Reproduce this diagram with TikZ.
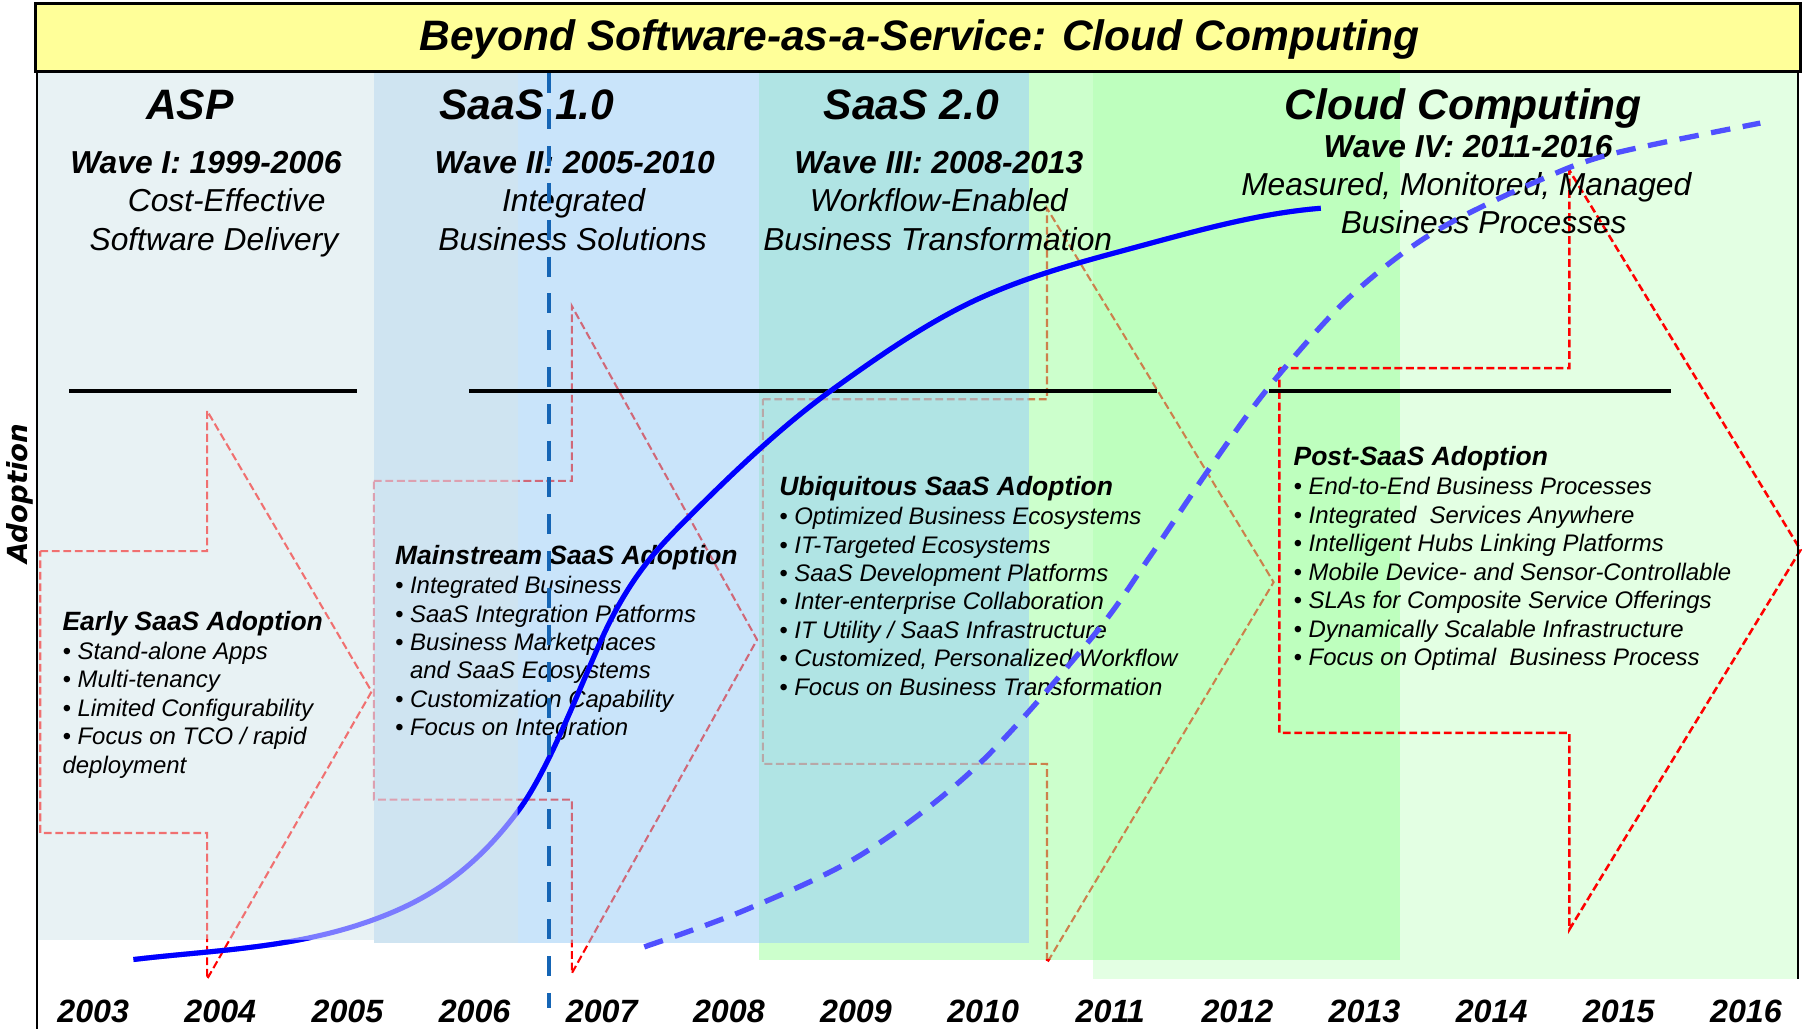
\documentclass[tikz,border=0pt]{standalone}
\usepackage{fontspec}
\setmainfont{Liberation Sans}
\newfontfamily\dejavu{DejaVu Sans}
\definecolor{ttlyel}{HTML}{FFFF99}
\definecolor{aspbg}{HTML}{E8F2F4}
\definecolor{sonel}{HTML}{CFE4F1}
\definecolor{soner}{HTML}{C9E4FA}
\definecolor{gpale}{HTML}{CCFFCC}
\definecolor{tealbg}{HTML}{B0E4E4}
\definecolor{glight}{HTML}{E3FFE3}
\definecolor{gmid}{HTML}{BEFFBE}
\definecolor{salmonA}{HTML}{F07070}
\definecolor{pinkL}{HTML}{DCA0B0}
\definecolor{pinkR}{HTML}{D06878}
\definecolor{grayA}{HTML}{B8A8A8}
\definecolor{brownA}{HTML}{CC804C}
\definecolor{curveL}{HTML}{7B7BFF}
\definecolor{curveB}{HTML}{0000FF}
\definecolor{dashcurve}{HTML}{5050FF}
\definecolor{vline}{HTML}{1565B5}
\tikzset{
  ttl/.style={font=\fontsize{18.5}{22}\selectfont\bfseries\itshape, anchor=base, inner sep=0},
  wave/.style={font=\fontsize{13.8}{16}\selectfont\bfseries\itshape, anchor=base, inner sep=0},
  desc/.style={font=\fontsize{13.8}{16}\selectfont\itshape, anchor=base, inner sep=0},
  lhead/.style={font=\fontsize{11.5}{13}\selectfont\bfseries\itshape, anchor=base west, inner sep=0},
  litem/.style={font=\fontsize{10.4}{12}\selectfont\itshape, anchor=base west, inner sep=0},
  yr/.style={font=\fontsize{14}{16}\selectfont\bfseries\itshape, anchor=base, inner sep=0},
  arrln/.style={line width=0.9pt, dash pattern=on 3.4pt off 1.6pt},
  blk/.style={line width=1.8pt, black},
}
\def\arrOne{(35,479) -- (180,479) -- (180,357) -- (323,601) -- (180,851) -- (180,724) -- (35,724) -- cycle}
\def\arrTwo{(325,418) -- (497,418) -- (497,266) -- (658,556) -- (497,846) -- (497,695) -- (325,695) -- cycle}
\def\arrThree{(663,347) -- (910,347) -- (910,181) -- (1107,506) -- (910,837) -- (910,664) -- (663,664) -- cycle}
\def\arrFour{(1112,320) -- (1364,320) -- (1364,148) -- (1565,478) -- (1364,808) -- (1364,637) -- (1112,637) -- cycle}
\def\solidcurve{(116,834) .. controls (185,825.7) and (254,824.8) .. (323,800)
  .. controls (365.7,784.6) and (408.3,761.6) .. (451,704)
  .. controls (474,673) and (497,614.9) .. (520,562)
  .. controls (546.7,500.6) and (573.3,474.7) .. (600,448)
  .. controls (641,407) and (682,368.5) .. (723,339)
  .. controls (766,308) and (809,278.4) .. (852,259)
  .. controls (895.7,239.3) and (939.3,227.8) .. (983,216)
  .. controls (1038,201.2) and (1093,185.4) .. (1148,181)}
\begin{document}
\begin{tikzpicture}[x=0.5pt, y=-0.5pt]
\useasboundingbox (0,0) rectangle (1568,894);
\fill[white] (0,0) rectangle (1568,894);
% background bands
\fill[aspbg] (32,62) rectangle (325,817);
\fill[sonel] (325,62) rectangle (450,820);
\fill[soner] (450,62) rectangle (660,820);
\fill[glight] (950,62) rectangle (1563,851);
\fill[gpale] (660,62) rectangle (1217,834);
\fill[gmid] (950,62) rectangle (1217,834);
\fill[tealbg] (660,62) rectangle (894,820);
% arrow 1
\begin{scope}\clip (0,0) rectangle (1568,817); \draw[arrln, salmonA] \arrOne; \end{scope}
\begin{scope}\clip (0,817) rectangle (1568,894); \draw[arrln, red] \arrOne; \end{scope}
% arrow 2
\begin{scope}\clip (0,0) rectangle (450,820); \draw[arrln, pinkL] \arrTwo; \end{scope}
\begin{scope}\clip (450,0) rectangle (1568,820); \draw[arrln, pinkR] \arrTwo; \end{scope}
\begin{scope}\clip (0,820) rectangle (1568,894); \draw[arrln, red] \arrTwo; \end{scope}
% arrow 3
\begin{scope}\clip (0,0) rectangle (894,820); \draw[arrln, grayA] \arrThree; \end{scope}
\begin{scope}\clip (894,0) rectangle (1568,834) (0,820) rectangle (894,834); \draw[arrln, brownA] \arrThree; \end{scope}
\begin{scope}\clip (0,834) rectangle (1568,894); \draw[arrln, red] \arrThree; \end{scope}
% arrow 4
\draw[arrln, line width=1.1pt, red] \arrFour;
% frame
\draw[line width=0.8pt] (32,62) -- (32,894);
\draw[line width=0.8pt] (1563,62) -- (1563,851);
% phase headings
\node[ttl] (asp) at (165,104) {ASP};
\node[ttl] (saas1) at (458,104) {SaaS 1.0};
\node[ttl] (saas2) at (792,104) {SaaS 2.0};
\node[ttl] (cloud) at (1272,104) {Cloud Computing};
\node[wave] (w1) at (179,150.6) {Wave I: 1999-2006};
\node[desc] (d1a) at (197,184) {Cost-Effective};
\node[desc] (d1b) at (186,217.3) {Software Delivery};
\node[wave] (w2) at (499.5,150.6) {Wave II: 2005-2010};
\node[desc] (d2a) at (498.5,184) {Integrated};
\node[desc] (d2b) at (497.7,217.3) {Business Solutions};
\node[wave] (w3) at (816,150.6) {Wave III: 2008-2013};
\node[desc] (d3a) at (816,184) {Workflow-Enabled};
\node[desc] (d3b) at (815,217.3) {Business Transformation};
\node[wave] (w4) at (1276,136.8) {Wave IV: 2011-2016};
\node[desc] (d4a) at (1274.5,170) {Measured, Monitored, Managed};
\node[desc] (d4b) at (1289.6,203) {Business Processes};
% lists
\node[lhead] (eh) at (54,548) {Early SaaS Adoption};
\foreach \t [count=\i from 0] in {{• Stand-alone Apps},{• Multi-tenancy},{• Limited Configurability},{• Focus on TCO / rapid},{deployment}}
  \node[litem] (ea\i) at (54,573+24.8*\i) {\t};
\node[lhead] (mh) at (343,491) {Mainstream SaaS Adoption};
\foreach \t [count=\i from 0] in {{• Integrated Business},{• SaaS Integration Platforms},{• Business Marketplaces},{\phantom{• }and SaaS Ecosystems},{• Customization Capability},{• Focus on Integration}}
  \node[litem] (ma\i) at (343,516+24.7*\i) {\t};
\node[lhead] (uh) at (677,431) {Ubiquitous SaaS Adoption};
\foreach \t [count=\i from 0] in {{• Optimized Business Ecosystems},{• IT-Targeted Ecosystems},{• SaaS Development Platforms},{• Inter-enterprise Collaboration},{• IT Utility / SaaS Infrastructure},{• Customized, Personalized Workflow},{• Focus on Business Transformation}}
  \node[litem] (ua\i) at (677,456+24.7*\i) {\t};
\node[lhead] (ph) at (1124,405) {Post-SaaS Adoption};
\foreach \t [count=\i from 0] in {{• End-to-End Business Processes},{• Integrated\ \ Services Anywhere},{• Intelligent Hubs Linking Platforms},{• Mobile Device- and Sensor-Controllable},{• SLAs for Composite Service Offerings},{• Dynamically\ Scalable Infrastructure},{• Focus on Optimal\ \ Business Process}}
  \node[litem] (pa\i) at (1124,430+24.8*\i) {\t};
% years
\foreach \y [count=\i from 0] in {2003,2004,2005,2006,2007,2008,2009,2010,2011,2012,2013,2014,2015,2016}
  \node[yr] (yr\y) at (81+110.5*\i,889) {\y};
% axis label
\node[font=\dejavu\fontsize{12}{14}\selectfont\bfseries\itshape, rotate=90, inner sep=0] (adopt) at (17,429) {Adoption};
% black separators
\draw[blk] (60,340) -- (310,340);
\draw[blk] (408,340) -- (1006,340);
\draw[blk] (1103,340) -- (1452,340);
% solid adoption curve
\draw[line width=2.2pt, curveL] \solidcurve;
\begin{scope}
\clip (0,817) rectangle (325,894) (450,0) rectangle (1568,894);
\draw[line width=2.2pt, curveB] \solidcurve;
\end{scope}
% dashed cloud curve
\draw[line width=2.3pt, dashcurve, dash pattern=on 8.5pt off 5.5pt] plot[smooth, tension=0.55] coordinates {(560,823) (650,790) (750,742) (850,665) (950,553) (1000,483) (1050,409) (1100,340) (1160,271) (1210,227) (1260,194) (1335,158) (1400,134) (1530,107)};
% vertical dashed marker
\draw[line width=2pt, vline, dash pattern=on 8.7pt off 7.3pt] (477,63) -- (477,876);
% title
\draw[line width=1.4pt, fill=ttlyel] (31,3) rectangle (1565,62);
\node[ttl] (title) at (799,43.5) {Beyond Software-as-a-Service: Cloud Computing};
\end{tikzpicture}
\end{document}
